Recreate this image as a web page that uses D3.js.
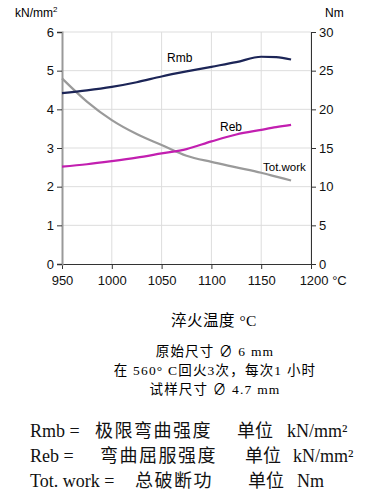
<!DOCTYPE html>
<html>
<head>
<meta charset="utf-8">
<script src="https://cdn.jsdelivr.net/npm/d3@7"></script>
<style>
body { margin: 0; background: #fff; }
svg text { font-family: "Liberation Sans", Arial, sans-serif; }
.cn { font-family: "Liberation Serif", "Noto Sans CJK SC", serif; }
</style>
</head>
<body>
<script>
var temps = [950, 975, 1000, 1025, 1050, 1075, 1100, 1125, 1150, 1165, 1180];
var rmb = [4.42, 4.49, 4.58, 4.70, 4.85, 4.98, 5.10, 5.22, 5.36, 5.35, 5.29];
var reb = [2.52, 2.58, 2.66, 2.75, 2.86, 2.97, 3.17, 3.35, 3.47, 3.54, 3.60];
var work = [24.0, 21.0, 18.6, 16.8, 15.4, 14.0, 13.2, 12.5, 11.8, 11.3, 10.8];
var xTicks = [950, 1000, 1050, 1100, 1150, 1200];
var notes = ["原始尺寸 \u2205 6 mm", "在 560° C回火3次，每次1 小时", "试样尺寸 \u2205 4.7 mm"];
var legendLines = [
  ["Rmb = ", "极限弯曲强度", "单位", "kN/mm²"],
  ["Reb = ", "弯曲屈服强度", "单位", "kN/mm²"],
  ["Tot. work = ", "总破断功", "单位", "Nm"]
];

var svg = d3.select("body").append("svg")
    .attr("width", 389)
    .attr("height", 498);

var x = d3.scaleLinear().domain([950, 1200]).range([62, 311]);
var yL = d3.scaleLinear().domain([0, 6]).range([264, 32]);
var yR = d3.scaleLinear().domain([0, 30]).range([264, 32]);

// grid
svg.append("g").selectAll("line").data(xTicks.slice(1)).enter().append("line")
    .attr("x1", d => x(d)).attr("x2", d => x(d))
    .attr("y1", yL(6)).attr("y2", yL(0))
    .attr("stroke", "#ddd");
svg.append("g").selectAll("line").data(d3.range(1, 7)).enter().append("line")
    .attr("x1", x(950)).attr("x2", x(1200))
    .attr("y1", d => yL(d)).attr("y2", d => yL(d))
    .attr("stroke", "#ddd");

// axes
var gx = svg.append("g").attr("transform", "translate(0," + yL(0) + ")")
    .call(d3.axisBottom(x).tickValues(xTicks).tickSize(5).tickFormat(d => d == 1200 ? "1200 °C" : d));
var gl = svg.append("g").attr("transform", "translate(" + x(950) + ",0)")
    .call(d3.axisLeft(yL).ticks(6).tickSize(5));
var gr = svg.append("g").attr("transform", "translate(" + x(1200) + ",0)")
    .call(d3.axisRight(yR).tickValues([0, 5, 10, 15, 20, 25, 30]).tickSize(5));
[gx, gl, gr].forEach(g => {
  g.select(".domain").attr("stroke", "#333");
  g.selectAll(".tick line").attr("stroke", "#333");
  g.selectAll("text").attr("font-size", 13).attr("fill", "#111")
      .style("font-family", "Liberation Sans, Arial, sans-serif");
});
gl.select(".domain").attr("stroke", "#999").attr("stroke-width", 2);
gx.selectAll(".tick text").attr("dy", "1.0em");
gx.selectAll(".tick").filter(d => d == 1200).select("text").attr("dx", "0.9em");

// lines
var lineL = d3.line().x((d, i) => x(temps[i])).y(d => yL(d)).curve(d3.curveMonotoneX);
var lineR = d3.line().x((d, i) => x(temps[i])).y(d => yR(d)).curve(d3.curveMonotoneX);
svg.append("path").attr("d", lineR(work)).attr("fill", "none").attr("stroke", "#9a9a9a").attr("stroke-width", 2.2);
svg.append("path").attr("d", lineL(reb)).attr("fill", "none").attr("stroke", "#c21fb0").attr("stroke-width", 2.2);
svg.append("path").attr("d", lineL(rmb)).attr("fill", "none").attr("stroke", "#1c2557").attr("stroke-width", 2.2);

// series labels
svg.append("text").attr("x", 167).attr("y", 62).attr("font-size", 12).text("Rmb");
svg.append("text").attr("x", 220).attr("y", 131).attr("font-size", 12).text("Reb");
svg.append("text").attr("x", 263).attr("y", 171).attr("font-size", 11.5).text("Tot.work");

// unit labels
svg.append("text").attr("x", 15).attr("y", 17).attr("font-size", 12).text("kN/mm")
  .append("tspan").attr("dy", -5).attr("font-size", 8).text("2");
svg.append("text").attr("x", 325).attr("y", 17).attr("font-size", 12).text("Nm");

// captions
svg.append("text").attr("class", "cn").attr("x", 214).attr("y", 326)
    .attr("text-anchor", "middle").attr("font-size", 15.5).attr("letter-spacing", 0.5).text("淬火温度  °C");
svg.append("g").selectAll("text").data(notes).enter().append("text")
    .attr("class", "cn").attr("x", 215).attr("y", (d, i) => 356 + i * 19)
    .attr("text-anchor", "middle").attr("font-size", 13.5).attr("letter-spacing", 1.2).text(d => d);

var lgX = [[30, 95, 237, 287], [30, 100, 245, 293], [30, 135, 248, 297]];
var lg = svg.append("g").selectAll("text").data(legendLines).enter().append("text")
    .attr("class", "cn").attr("y", (d, i) => 437 + i * 25)
    .attr("font-size", 18).attr("fill", "#111");
lg.each(function(d, i) {
  var t = d3.select(this);
  d.forEach((s, j) => {
    t.append("tspan").attr("x", lgX[i][j])
      .attr("letter-spacing", j == 1 ? 1.5 : 0)
      .text(s);
  });
});
</script>
</body>
</html>
